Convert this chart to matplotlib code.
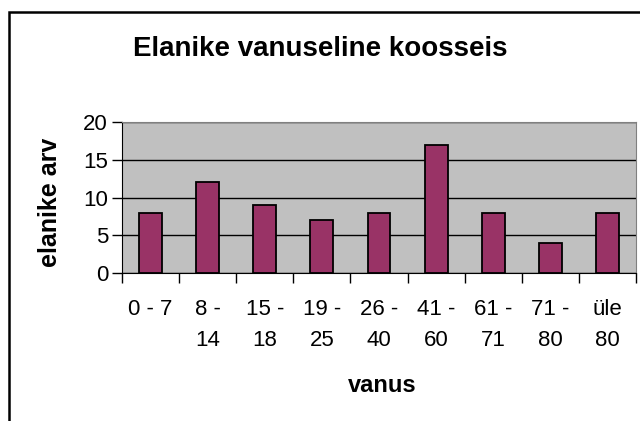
import matplotlib
matplotlib.use("Agg")
import matplotlib.pyplot as plt
from matplotlib.patches import Rectangle

categories = ["0 - 7", "8 -\n14", "15 -\n18", "19 -\n25", "26 -\n40",
              "41 -\n60", "61 -\n71", "71 -\n80", "üle\n80"]
values = [8, 12, 9, 7, 8, 17, 8, 4, 8]
yticks = [0, 5, 10, 15, 20]

plt.rcParams["font.family"] = ["Liberation Sans", "DejaVu Sans"]

W, H = 640, 421
fig = plt.figure(figsize=(W / 100, H / 100), dpi=100)

# outer chart frame (cut off at right/bottom like the original)
fig.patches.append(Rectangle((9 / W, -0.1), 1.2, 1 - 12 / H + 0.1,
                             transform=fig.transFigure, fill=False,
                             edgecolor="black", lw=1.8))

ax = fig.add_axes([122 / W, 1 - 273 / H, 514 / W, 151 / H])
ax.set_facecolor("#C0C0C0")
x = list(range(len(values)))
ax.bar(x, values, width=0.4, color="#993366", edgecolor="black", lw=1.3, zorder=3)

ax.set_xlim(-0.5, len(values) - 0.5)
ax.set_ylim(0, 20)
ax.set_yticks(yticks)
ax.yaxis.grid(True, color="black", lw=1.0, zorder=1)
ax.set_axisbelow(True)

# ticks at category boundaries, labels centred under bars
ax.set_xticks([i - 0.5 for i in range(len(values) + 1)])
ax.set_xticklabels([])
ax.set_xticks(x, minor=True)
ax.set_xticklabels(categories, minor=True, fontsize=16, linespacing=1.6, va="top")
ax.tick_params(axis="x", which="major", length=7, width=1, color="black")
ax.tick_params(axis="x", which="minor", length=0, pad=19)
ax.tick_params(axis="y", length=7, width=1, labelsize=16, pad=3)

for s in ["top", "right"]:
    ax.spines[s].set_color("#808080")
ax.spines["left"].set_color("black")
ax.spines["bottom"].set_color("black")

fig.text(50 / W, 1 - 202 / H, "elanike arv", fontsize=18, fontweight="bold",
         rotation=90, ha="center", va="center")
fig.text(382 / W, 1 - 385 / H, "vanus", fontsize=17, fontweight="bold",
         ha="center", va="center")
fig.text(320 / W, 1 - 49 / H, "Elanike vanuseline koosseis", fontsize=20,
         fontweight="bold", ha="center", va="center")

fig.savefig("out.png", dpi=100)
